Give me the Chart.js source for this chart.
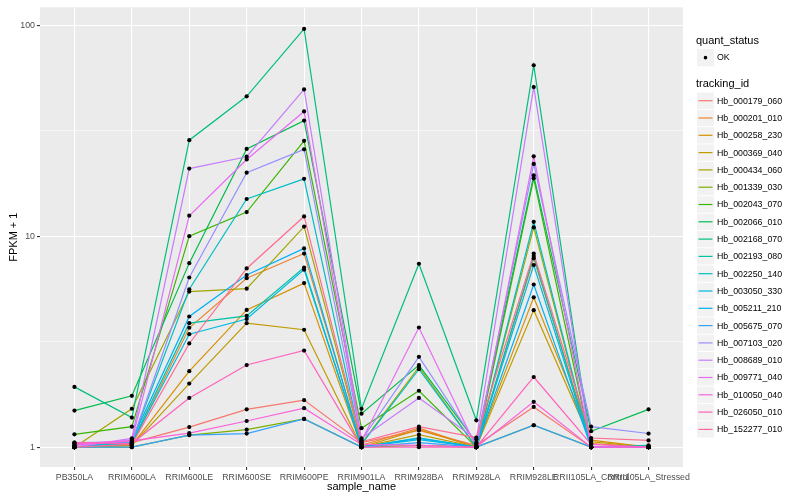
<!DOCTYPE html>
<html>
<head>
<meta charset="utf-8">
<script src="https://cdn.jsdelivr.net/npm/chart.js@4.4.1/dist/chart.umd.min.js"></script>
<style>
  body { margin: 0; background: #fff; }
  canvas { display: block; }
</style>
</head>
<body>
<canvas id="chart" width="800" height="500"></canvas>
<script>
// categories on the x axis
const samples = ['PB350LA', 'RRIM600LA', 'RRIM600LE', 'RRIM600SE', 'RRIM600PE', 'RRIM901LA',
  'RRIM928BA', 'RRIM928LA', 'RRIM928LE', 'RRII105LA_Control', 'RRII105LA_Stressed'];

const trackingIds = ['Hb_000179_060', 'Hb_000201_010', 'Hb_000258_230', 'Hb_000369_040', 'Hb_000434_060',
  'Hb_001339_030', 'Hb_002043_070', 'Hb_002066_010', 'Hb_002168_070', 'Hb_002193_080',
  'Hb_002250_140', 'Hb_003050_330', 'Hb_005211_210', 'Hb_005675_070', 'Hb_007103_020',
  'Hb_008689_010', 'Hb_009771_040', 'Hb_010050_040', 'Hb_026050_010', 'Hb_152277_010'];

const lineColors = ['#F8766D', '#EA8331', '#D89000', '#C09B00', '#A3A500', '#7CAE00', '#39B600', '#00BB4E',
  '#00BF7D', '#00C1A3', '#00BFC4', '#00BAE0', '#00B0F6', '#35A2FF', '#9590FF', '#C77CFF',
  '#E76BF3', '#FA62DB', '#FF62BC', '#FF6C91'];

// FPKM + 1, one row per tracking_id, one value per sample
const fpkmPlusOne = [
  [1.03, 1.05, 1.245, 1.51, 1.67, 1.05, 1.2, 1.02, 1.55, 1.0, 1.0],
  [1.0, 1.03, 3.68, 6.32, 8.27, 1.02, 1.23, 1.0, 7.85, 1.04, 1.0],
  [1.0, 1.02, 2.29, 4.47, 5.99, 1.0, 1.21, 1.0, 5.13, 1.08, 1.0],
  [1.0, 1.02, 2.0, 3.87, 3.6, 1.0, 1.145, 1.0, 4.46, 1.06, 1.0],
  [1.0, 1.52, 5.46, 5.64, 11.1, 1.04, 2.4, 1.0, 11.0, 1.0, 1.0],
  [1.0, 1.0, 1.14, 1.21, 1.36, 1.0, 1.02, 1.0, 1.27, 1.0, 1.0],
  [1.15, 1.25, 10.0, 13.0, 28.3, 1.23, 1.85, 1.0, 18.8, 1.0, 1.0],
  [1.49, 1.75, 7.45, 25.9, 35.3, 1.44, 2.45, 1.05, 19.4, 1.19, 1.51],
  [1.93, 1.38, 28.5, 46.0, 96.0, 1.52, 7.4, 1.34, 64.6, 1.0, 1.0],
  [1.0, 1.05, 3.87, 4.19, 7.1, 1.0, 1.105, 1.0, 8.05, 1.0, 1.02],
  [1.0, 1.06, 5.6, 15.0, 18.7, 1.03, 2.34, 1.0, 11.7, 1.0, 1.0],
  [1.0, 1.04, 3.43, 4.05, 6.94, 1.0, 1.085, 1.0, 7.3, 1.0, 1.0],
  [1.0, 1.08, 4.16, 6.54, 8.75, 1.0, 1.1, 1.0, 5.9, 1.0, 1.0],
  [1.0, 1.0, 1.14, 1.16, 1.36, 1.0, 1.05, 1.0, 1.27, 1.0, 1.0],
  [1.05, 1.06, 6.37, 20.0, 25.8, 1.08, 2.68, 1.04, 22.0, 1.25, 1.16],
  [1.0, 1.1, 20.9, 23.8, 49.6, 1.1, 1.71, 1.09, 50.9, 1.0, 1.0],
  [1.02, 1.08, 12.5, 23.1, 39.0, 1.07, 3.69, 1.0, 23.9, 1.0, 1.0],
  [1.04, 1.07, 1.166, 1.33, 1.53, 1.03, 1.02, 1.0, 1.64, 1.0, 1.0],
  [1.05, 1.04, 1.71, 2.45, 2.87, 1.0, 1.0, 1.0, 2.15, 1.03, 1.0],
  [1.0, 1.03, 3.1, 7.03, 12.4, 1.06, 1.25, 1.11, 8.27, 1.105, 1.076]
];

const yMajor = [1, 10, 100];
const yMinor = [3.1623, 31.623];

const FONT = "'Liberation Sans', Arial, sans-serif";

// grey panel behind the grid
const panelBg = {
  id: 'panelBg',
  beforeDraw(chart) {
    const { ctx, chartArea: a } = chart;
    ctx.save();
    ctx.fillStyle = '#EBEBEB';
    ctx.fillRect(a.left, a.top, a.right - a.left, a.bottom - a.top);
    ctx.restore();
  }
};

// points go on top of every line, like geom_point after geom_line
const pointsOnTop = {
  id: 'pointsOnTop',
  afterDatasetsDraw(chart) {
    const ctx = chart.ctx;
    ctx.save();
    ctx.fillStyle = '#000';
    chart.data.datasets.forEach((ds, i) => {
      chart.getDatasetMeta(i).data.forEach(pt => {
        ctx.beginPath();
        ctx.arc(pt.x, pt.y, 2.1, 0, Math.PI * 2);
        ctx.fill();
      });
    });
    ctx.restore();
  }
};

// ggplot style legend on the right
const sideLegend = {
  id: 'sideLegend',
  afterDraw(chart) {
    const ctx = chart.ctx;
    const x0 = 696, keyW = 17, keyH = 17.3;
    ctx.save();
    ctx.textBaseline = 'middle';
    ctx.fillStyle = '#000';
    ctx.font = '11px ' + FONT;
    ctx.fillText('quant_status', x0, 41);
    ctx.fillStyle = '#F2F2F2';
    ctx.fillRect(x0 + 1, 49, keyW, keyH);
    ctx.fillStyle = '#000';
    ctx.beginPath();
    ctx.arc(x0 + 1 + keyW / 2, 49 + keyH / 2, 1.8, 0, Math.PI * 2);
    ctx.fill();
    ctx.font = '8.8px ' + FONT;
    ctx.fillText('OK', x0 + 21, 57.5);

    ctx.font = '11px ' + FONT;
    ctx.fillText('tracking_id', x0, 84);
    trackingIds.forEach((id, i) => {
      const cy = 100.7 + i * keyH;
      ctx.fillStyle = '#F2F2F2';
      ctx.fillRect(x0 + 1, cy - keyH / 2 + 0.5, keyW, keyH - 1);
      ctx.strokeStyle = lineColors[i];
      ctx.lineWidth = 1.2;
      ctx.beginPath();
      ctx.moveTo(x0 + 2.5, cy);
      ctx.lineTo(x0 + keyW - 0.5, cy);
      ctx.stroke();
      ctx.fillStyle = '#000';
      ctx.font = '8.8px ' + FONT;
      ctx.fillText(id, x0 + 21, cy + 0.5);
    });
    ctx.restore();
  }
};

const datasets = trackingIds.map((id, i) => ({
  label: id,
  data: fpkmPlusOne[i].map((v, j) => ({ x: j, y: v })),
  borderColor: lineColors[i],
  backgroundColor: lineColors[i],
  borderWidth: 1.2,
  pointRadius: 0,
  tension: 0,
  order: trackingIds.length - i
}));

new Chart(document.getElementById('chart'), {
  type: 'line',
  data: { datasets },
  plugins: [panelBg, pointsOnTop, sideLegend],
  options: {
    responsive: false,
    animation: false,
    devicePixelRatio: 1,
    layout: { padding: { left: 0, right: 117, top: 5, bottom: 0 } },
    plugins: { legend: { display: false }, tooltip: { enabled: false } },
    scales: {
      x: {
        type: 'linear',
        min: -0.6,
        max: 10.6,
        afterBuildTicks: s => { s.ticks = samples.map((_, i) => ({ value: i })); },
        afterFit: s => { s.height = 33; },
        border: { display: false },
        grid: { color: '#FFFFFF', lineWidth: 1.1, tickColor: '#333333', tickLength: 3 },
        ticks: {
          autoSkip: false, maxRotation: 0, minRotation: 0, padding: 2,
          color: '#4D4D4D', font: { family: FONT, size: 8.8 },
          callback: v => samples[v]
        },
        title: { display: true, text: 'sample_name', color: '#000', font: { family: FONT, size: 11 }, padding: { top: 0, bottom: 6 } }
      },
      y: {
        type: 'logarithmic',
        min: 0.805,
        max: 121.6,
        afterBuildTicks: s => {
          s.ticks = [...yMajor, ...yMinor].sort((a, b) => a - b).map(v => ({ value: v }));
        },
        afterFit: s => { s.width = 40; },
        border: { display: false },
        grid: {
          color: '#FFFFFF',
          lineWidth: c => (c.tick && yMajor.includes(c.tick.value)) ? 1.1 : 0.55,
          tickColor: c => (c.tick && yMajor.includes(c.tick.value)) ? '#333333' : 'rgba(0,0,0,0)',
          tickLength: 3
        },
        ticks: {
          autoSkip: false, padding: 2,
          color: '#4D4D4D', font: { family: FONT, size: 8.8 },
          callback: v => yMajor.includes(v) ? String(v) : ''
        },
        title: { display: true, text: 'FPKM + 1', color: '#000', font: { family: FONT, size: 11 }, padding: { top: 7.5, bottom: 0 } }
      }
    }
  }
});
</script>
</body>
</html>
